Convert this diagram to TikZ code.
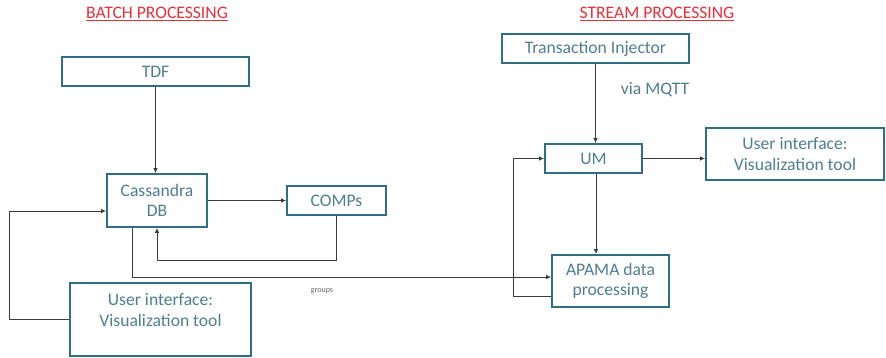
\documentclass[tikz,border=0pt]{standalone}
\usepackage{fontspec}
\setmainfont{Carlito}
\usetikzlibrary{arrows.meta}
\definecolor{boxline}{HTML}{2F6F86}
\definecolor{boxtext}{HTML}{4F7F8E}
\definecolor{titlered}{HTML}{E8303A}
\definecolor{conn}{HTML}{3C3C3C}
\tikzset{
  box/.style={draw=boxline, line width=1.8pt, rectangle, fill=white, inner sep=0pt},
  txt/.style={text=boxtext, font=\fontsize{17.6}{20.5}\selectfont, align=center},
  ttl/.style={text=titlered, font=\fontsize{17.6}{20}\selectfont},
  arr/.style={draw=conn, line width=0.9pt, -{Latex[length=5pt,width=4.5pt]}},
  ln/.style={draw=conn, line width=0.9pt}
}
\begin{document}
\begin{tikzpicture}[x=1pt,y=-1pt]
\useasboundingbox (0,0) rectangle (886,358);
% titles
\node[ttl] (tb) at (157,14) {\underline{BATCH PROCESSING}};
\node[ttl] (ts) at (657,14) {\underline{STREAM PROCESSING}};
% batch boxes
\node[box, txt, minimum width=187pt, minimum height=29pt] (tdf) at (155.5,71.5) {TDF};
\node[box, txt, minimum width=100pt, minimum height=53pt] (cass) at (157,200.5) {Cassandra\\DB};
\node[box, txt, minimum width=99pt, minimum height=29pt] (comps) at (336.5,200.5) {COMPs};
\node[box, minimum width=181pt, minimum height=73pt] (uil) at (160.5,319.5) {};
\node[txt] (uiltext) at (160.5,310) {User interface:\\Visualization tool};
% stream boxes
\node[box, txt, minimum width=187pt, minimum height=29pt] (ti) at (595.5,48.5) {Transaction Injector};
\node[box, txt, minimum width=97pt, minimum height=29pt] (um) at (593.5,158.5) {UM};
\node[box, txt, minimum width=178pt, minimum height=52pt] (uir) at (795,154) {User interface:\\Visualization tool};
\node[box, txt, minimum width=117pt, minimum height=52pt] (apama) at (610.5,281) {APAMA data\\processing};
% labels
\node[txt] (mqtt) at (655,90) {via MQTT};
\node[text=conn!80, font=\fontsize{8}{9}\selectfont] (groups) at (322,291) {groups};
% coordinates
\coordinate (fb) at (157,260);
\coordinate (ll) at (9,319.5);
\coordinate (lp) at (513.5,158.5);
% batch connectors
\draw[arr] (tdf.south) -- (tdf.south |- cass.north);
\draw[arr] (cass.east) -- (comps.west);
\draw[arr] (comps.south) |- (fb) -- (cass.south);
\draw[arr] ([xshift=-25pt]cass.south) |- ([yshift=4pt]apama.west);
\draw[arr] (uil.west) -- (ll) |- ([yshift=-10.5pt]cass.west);
% stream connectors
\draw[arr] (ti.south) -- (ti.south |- um.north);
\draw[arr] (um.east) -- (um.east -| uir.west);
\draw[arr] ([xshift=2.5pt]um.south) -- ([xshift=2.5pt]um.south |- apama.north);
\draw[arr] ([yshift=-15pt]apama.west) -| (lp) -- (um.west);
\end{tikzpicture}
\end{document}
